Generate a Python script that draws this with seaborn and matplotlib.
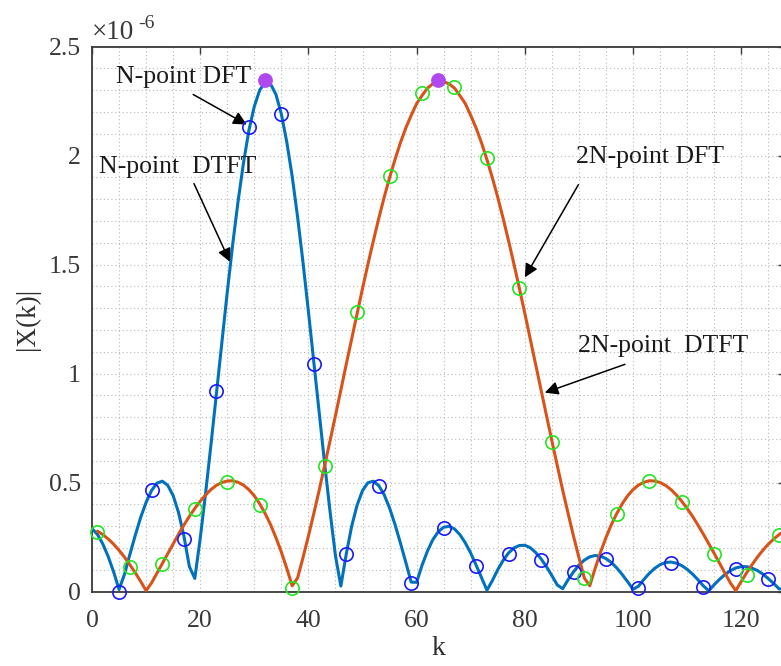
import matplotlib
matplotlib.use("Agg")
import matplotlib.pyplot as plt
import matplotlib.ticker as mticker
import numpy as np
import pandas as pd
import seaborn as sns

# |X(k)| in units of 1e-6
k_dtft_n = list(range(0, 129))
mag_dtft_n = [
    0.289, 0.262, 0.218, 0.160, 0.090, 0.009, 0.079, 0.170, 0.258, 0.340,
    0.409, 0.463, 0.497, 0.506, 0.487, 0.440, 0.362, 0.253, 0.114, 0.060,
    0.243, 0.452, 0.676, 0.909, 1.144, 1.373, 1.591, 1.790, 1.966, 2.115,
    2.225, 2.300, 2.335, 2.328, 2.280, 2.190, 2.062, 1.905, 1.718, 1.510,
    1.285, 1.052, 0.818, 0.587, 0.367, 0.164, 0.025, 0.172, 0.300, 0.396,
    0.463, 0.499, 0.506, 0.486, 0.444, 0.383, 0.308, 0.223, 0.134, 0.043,
    0.042, 0.120, 0.185, 0.238, 0.274, 0.295, 0.299, 0.287, 0.261, 0.223,
    0.176, 0.121, 0.064, 0.006, 0.050, 0.100, 0.143, 0.177, 0.200, 0.211,
    0.212, 0.201, 0.179, 0.150, 0.114, 0.073, 0.030, 0.013, 0.054, 0.090,
    0.121, 0.144, 0.159, 0.165, 0.162, 0.151, 0.133, 0.108, 0.078, 0.045,
    0.010, 0.024, 0.055, 0.083, 0.106, 0.123, 0.133, 0.135, 0.130, 0.119,
    0.102, 0.080, 0.054, 0.026, 0.003, 0.031, 0.056, 0.078, 0.096, 0.108,
    0.114, 0.114, 0.107, 0.096, 0.080, 0.059, 0.037, 0.012, 0.012,
]

k_dtft_2n = list(range(1, 129))
mag_dtft_2n = [
    0.277, 0.261, 0.241, 0.217, 0.189, 0.158, 0.123, 0.086, 0.046,
    0.004, 0.039, 0.084, 0.129, 0.175, 0.219, 0.263, 0.305, 0.345, 0.381,
    0.414, 0.443, 0.468, 0.487, 0.500, 0.507, 0.508, 0.501, 0.488, 0.467,
    0.439, 0.402, 0.358, 0.307, 0.247, 0.181, 0.106, 0.026, 0.062, 0.156,
    0.254, 0.358, 0.465, 0.577, 0.691, 0.807, 0.924, 1.043, 1.159, 1.276,
    1.390, 1.501, 1.608, 1.711, 1.808, 1.898, 1.981, 2.058, 2.126, 2.184,
    2.238, 2.275, 2.309, 2.329, 2.338, 2.338, 2.329, 2.309, 2.275, 2.238,
    2.184, 2.126, 2.058, 1.981, 1.898, 1.808, 1.711, 1.608, 1.501, 1.390,
    1.276, 1.159, 1.043, 0.924, 0.807, 0.691, 0.577, 0.465, 0.358, 0.254,
    0.156, 0.062, 0.026, 0.106, 0.181, 0.247, 0.307, 0.358, 0.402, 0.439,
    0.467, 0.488, 0.501, 0.508, 0.507, 0.500, 0.487, 0.468, 0.443, 0.414,
    0.381, 0.345, 0.305, 0.263, 0.219, 0.175, 0.129, 0.084, 0.039, 0.004,
    0.046, 0.086, 0.123, 0.158, 0.189, 0.217, 0.241, 0.261, 0.277,
]

k_dft_n = [5, 11, 17, 23, 29, 35, 41, 47, 53, 59, 65, 71, 77, 83, 89, 95,
           101, 107, 113, 119, 125]
mag_dft_n = [0.000, 0.465, 0.240, 0.920, 2.130, 2.190, 1.045, 0.172, 0.485,
             0.040, 0.293, 0.116, 0.172, 0.145, 0.088, 0.148, 0.016, 0.132,
             0.020, 0.104, 0.058]

k_dft_2n = [1, 7, 13, 19, 25, 31, 37, 43, 49, 55, 61, 67, 73, 79, 85, 91,
            97, 103, 109, 115, 121, 127]
mag_dft_2n = [0.271, 0.112, 0.124, 0.378, 0.503, 0.396, 0.016, 0.577, 1.280,
              1.904, 2.285, 2.315, 1.988, 1.394, 0.688, 0.062, 0.355, 0.505,
              0.412, 0.172, 0.075, 0.258]

k_peak = [32, 64]
mag_peak = [2.345, 2.345]

x_ticks = [0, 20, 40, 60, 80, 100, 120]
y_ticks = [0, 0.5, 1, 1.5, 2, 2.5]
y_tick_labels = ["0", "0.5", "1", "1.5", "2", "2.5"]

sns.set_theme(style="white")
plt.rcParams["font.family"] = ["Liberation Serif", "DejaVu Serif"]
plt.rcParams["axes.unicode_minus"] = False

W, H = 781, 666
fig = plt.figure(figsize=(W / 100, H / 100), dpi=100)
x0_px, x1_px = 92.0, 784.5
y_top_px, y_bot_px = 46.5, 591.5
ax = fig.add_axes([x0_px / W, 1 - y_bot_px / H,
                   (x1_px - x0_px) / W, (y_bot_px - y_top_px) / H])

blue = "#0072BD"
orange = "#D95319"

df_n = pd.DataFrame({"k": k_dtft_n, "mag": mag_dtft_n})
df_2n = pd.DataFrame({"k": k_dtft_2n, "mag": mag_dtft_2n})
sns.lineplot(data=df_n, x="k", y="mag", ax=ax, color=blue, lw=2.2,
             estimator=None, sort=False, zorder=3)
sns.lineplot(data=df_2n, x="k", y="mag", ax=ax, color=orange, lw=2.2,
             estimator=None, sort=False, zorder=3.5)

df_dn = pd.DataFrame({"k": k_dft_n, "mag": mag_dft_n})
df_d2n = pd.DataFrame({"k": k_dft_2n, "mag": mag_dft_2n})
sns.lineplot(data=df_dn, x="k", y="mag", ax=ax, linestyle="", marker="o",
             ms=9.6, mfc="none", mec="#1a1aff", mew=1.2, estimator=None,
             sort=False, zorder=4, clip_on=False)
sns.lineplot(data=df_d2n, x="k", y="mag", ax=ax, linestyle="", marker="o",
             ms=9.6, mfc="none", mec="#22e622", mew=1.2, estimator=None,
             sort=False, zorder=4, clip_on=False)
df_pk = pd.DataFrame({"k": k_peak, "mag": mag_peak})
sns.lineplot(data=df_pk, x="k", y="mag", ax=ax, linestyle="", marker="o",
             ms=9.6, mfc="#b048f0", mec="#b048f0", mew=1.0, estimator=None,
             sort=False, zorder=5, clip_on=False)

ax.set_xlim(0, 128)
ax.set_ylim(0, 2.5)
ax.set_xticks(x_ticks)
ax.set_yticks(y_ticks)
ax.set_yticklabels(y_tick_labels)
ax.xaxis.set_minor_locator(mticker.MultipleLocator(5))
ax.yaxis.set_minor_locator(mticker.MultipleLocator(0.1))

grid_kw = dict(color="#b8b8b8", linestyle=(0, (1, 2.4)), linewidth=0.8)
ax.grid(True, which="major", **grid_kw)
ax.grid(True, which="minor", **grid_kw)
ax.set_axisbelow(True)

axis_col = "#3a3a3a"
for side in ["left", "bottom", "top", "right"]:
    ax.spines[side].set_color(axis_col)
    ax.spines[side].set_linewidth(1.3)
ax.tick_params(which="major", direction="in", length=5, width=1.0,
               color=axis_col, top=True, right=True, labelsize=18.5,
               labelcolor="#383838")
ax.tick_params(axis="x", pad=13)
ax.tick_params(axis="y", pad=8)
ax.tick_params(which="minor", length=0)

ax.set_xlabel("k", fontsize=20, color="#303030", labelpad=3)
ax.set_ylabel("|X(k)|", fontsize=19.5, color="#303030", labelpad=6)

# exponent of the y axis
fig.text(92 / W, 1 - 39 / H, "\u00d710", fontsize=19.5, color="#383838",
         ha="left", va="baseline")
fig.text(138 / W, 1 - 28 / H, "-6", fontsize=14, color="#383838",
         ha="left", va="baseline")

arrow = dict(arrowstyle="-|>", color="black", lw=1.1, mutation_scale=20,
             shrinkA=0, shrinkB=0)
txt_kw = dict(fontsize=18.5, color="#1a1a1a", ha="center", va="center")
ax.text(17.0, 2.358, "N-point DFT", **txt_kw)
ax.annotate("", xy=(28.6, 2.142), xytext=(18.7, 2.280), arrowprops=arrow)
ax.text(15.8, 1.945, "N-point  DTFT", **txt_kw)
ax.annotate("", xy=(25.5, 1.512), xytext=(18.85, 1.871), arrowprops=arrow)
ax.text(103.1, 1.995, "2N-point DFT", **txt_kw)
ax.annotate("", xy=(80.0, 1.441), xytext=(89.9, 1.866), arrowprops=arrow)
ax.text(105.5, 1.127, "2N-point  DTFT", **txt_kw)
ax.annotate("", xy=(83.7, 0.912), xytext=(98.5, 1.042), arrowprops=arrow)

fig.savefig("out.png", dpi=100)
